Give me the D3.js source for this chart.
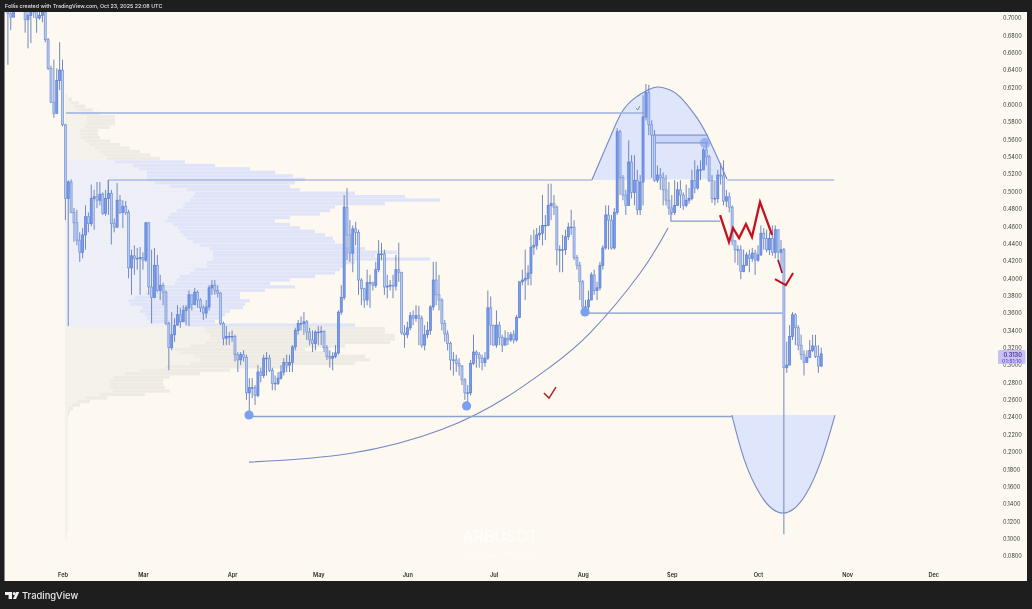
<!DOCTYPE html>
<html><head><meta charset="utf-8">
<script src="https://cdn.jsdelivr.net/npm/d3@7"></script>
<style>html,body{margin:0;padding:0;background:#1e1e1e;overflow:hidden}svg{display:block;filter:blur(.3px)}text{font-family:Inter,"Noto Sans",sans-serif}</style>
</head><body><div id="c"></div>
<script>
const firstOpen = 0.74;
const closes = [
.705,.701,.721,.744,.750,.726,.698,.703,.707,.715,
.700,.703,.707,.675,.642,.603,.590,.628,.640,.577,
.492,.511,.476,.464,.444,.430,.450,.471,.463,.492,
.494,.490,.497,.475,.492,.498,.463,.459,.490,.476,
.483,.476,.412,.426,.423,.423,.424,.421,.464,.390,
.378,.415,.386,.392,.384,.348,.320,.335,.346,.358,
.350,.363,.366,.381,.370,.384,.375,.366,.360,.367,
.389,.392,.386,.383,.348,.331,.333,.333,.333,.312,
.306,.312,.309,.268,.274,.274,.265,.292,.288,.308,
.308,.294,.279,.279,.285,.292,.303,.300,.303,.321,
.340,.348,.348,.350,.338,.329,.325,.338,.338,.339,
.320,.310,.308,.310,.314,.361,.378,.482,.450,.429,
.457,.453,.398,.388,.375,.395,.395,.392,.410,.428,
.428,.390,.391,.392,.391,.410,.407,.337,.335,.343,
.357,.354,.357,.354,.323,.335,.340,.367,.398,.381,
.375,.348,.336,.325,.306,.306,.302,.299,.283,.268,
.268,.302,.315,.312,.308,.303,.308,.366,.346,.323,
.346,.332,.323,.331,.329,.335,.329,.355,.396,.398,
.400,.406,.436,.438,.450,.452,.461,.461,.484,.486,
.482,.433,.433,.433,.448,.459,.459,.424,.415,.396,
.367,.367,.375,.404,.386,.389,.415,.435,.473,.467,
.435,.476,.569,.516,.496,.484,.534,.499,.513,.479,
.511,.586,.614,.577,.565,.513,.519,.516,.502,.490,
.481,.476,.484,.502,.496,.484,.490,.492,.513,.504,
.525,.525,.548,.540,.513,.492,.492,.519,.518,.489,
.494,.482,.443,.433,.433,.408,.415,.427,.423,.429,
.421,.427,.452,.446,.433,.446,.430,.456,.430,.433,
.297,.300,.333,.358,.343,.323,.312,.303,.309,.317,
.322,.310,.299,.313];
const highs = [
.767,.715,.744,.755,.761,.755,.721,.715,.721,.726,
.721,.715,.721,.709,.677,.645,.652,.642,.672,.652,
.578,.513,.514,.481,.479,.453,.458,.484,.476,.508,
.502,.511,.511,.499,.502,.513,.502,.469,.510,.496,
.490,.489,.479,.433,.438,.435,.436,.430,.465,.465,
.433,.435,.427,.404,.395,.386,.350,.361,.354,.369,
.366,.369,.369,.386,.375,.389,.386,.377,.369,.375,
.392,.398,.398,.392,.384,.350,.345,.338,.340,.335,
.315,.315,.317,.312,.285,.285,.277,.300,.297,.312,
.315,.312,.297,.288,.292,.300,.308,.312,.312,.323,
.343,.352,.356,.361,.352,.343,.340,.340,.345,.345,
.340,.323,.317,.315,.323,.363,.392,.496,.504,.467,
.461,.465,.456,.400,.389,.410,.404,.396,.419,.444,
.441,.433,.404,.398,.404,.427,.441,.398,.346,.350,
.361,.363,.369,.368,.357,.346,.350,.369,.419,.419,
.404,.377,.352,.340,.327,.315,.312,.308,.300,.285,
.277,.306,.335,.317,.315,.312,.315,.386,.379,.346,
.363,.350,.335,.340,.338,.338,.340,.358,.396,.410,
.433,.415,.450,.456,.458,.461,.496,.473,.509,.509,
.496,.484,.438,.450,.456,.464,.479,.467,.427,.419,
.398,.375,.386,.407,.410,.396,.419,.438,.484,.484,
.473,.481,.573,.571,.519,.502,.559,.542,.542,.525,
.519,.611,.624,.623,.582,.571,.530,.527,.522,.519,
.511,.496,.513,.511,.513,.499,.508,.504,.525,.536,
.530,.536,.550,.556,.542,.519,.513,.525,.533,.536,
.502,.499,.484,.444,.438,.438,.433,.430,.433,.435,
.433,.438,.461,.458,.456,.453,.461,.461,.456,.444,
.435,.327,.346,.361,.360,.346,.335,.317,.317,.329,
.335,.335,.323,.320];
const lows = [
.646,.686,.707,.726,.732,.707,.683,.665,.671,.700,
.683,.698,.695,.672,.640,.602,.585,.603,.617,.575,
.467,.345,.475,.442,.438,.419,.423,.433,.453,.460,
.456,.481,.484,.473,.472,.473,.439,.453,.458,.474,
.458,.473,.400,.381,.404,.410,.381,.410,.419,.381,
.348,.377,.384,.375,.369,.346,.294,.317,.327,.346,
.343,.350,.346,.345,.363,.369,.366,.361,.352,.354,
.363,.381,.381,.378,.346,.323,.323,.323,.327,.304,
.292,.300,.304,.260,.242,.262,.254,.263,.280,.285,
.288,.292,.271,.271,.277,.283,.288,.292,.292,.292,
.317,.335,.340,.335,.329,.323,.315,.317,.323,.323,
.315,.306,.297,.294,.308,.312,.358,.375,.421,.419,
.407,.438,.381,.369,.366,.369,.366,.386,.389,.407,
.421,.381,.377,.386,.377,.386,.396,.335,.320,.331,
.340,.346,.350,.323,.320,.317,.331,.335,.363,.369,
.363,.340,.327,.317,.294,.288,.292,.288,.277,.260,
.250,.265,.300,.297,.297,.294,.298,.306,.323,.323,
.320,.323,.315,.323,.323,.327,.325,.327,.354,.392,
.375,.392,.392,.427,.433,.444,.438,.444,.461,.467,
.473,.415,.407,.407,.427,.444,.450,.421,.410,.375,
.363,.361,.361,.381,.381,.375,.386,.410,.433,.433,
.433,.433,.473,.496,.490,.473,.484,.492,.484,.473,
.473,.484,.582,.565,.516,.511,.510,.502,.484,.484,
.473,.473,.473,.484,.481,.479,.482,.486,.490,.498,
.502,.513,.525,.530,.511,.487,.484,.487,.508,.484,
.482,.476,.438,.418,.415,.399,.407,.415,.407,.419,
.404,.419,.426,.433,.430,.427,.426,.423,.419,.412,
.105,.291,.300,.329,.323,.317,.306,.288,.304,.308,
.315,.308,.291,.298];

const profileTopPrice = 0.612, profileStep = 0.004;
const profileVolumes = [
2,7,14,20,28,35,50,50,50,45,
33,33,35,45,55,65,75,85,95,120,
150,185,210,228,240,230,225,235,290,340,
375,320,270,265,255,225,210,225,235,250,
260,268,270,280,300,332,310,365,290,280,
275,270,250,225,205,230,200,175,175,185,
180,178,165,160,155,150,290,320,320,330,
330,325,280,240,265,300,305,290,225,165,
135,105,98,98,100,105,80,42,25,15,
8,5,4,3,3,3,3,3,3,3,
3,3,3,3,3,3,3,3,3,3,
3,3,3,3,3,3,3,3,3,3,
3,3,3,3,3,3,2,2];
const profileBuy = [
1,3,6,9,12,16,22,22,22,20,
15,15,16,20,25,30,34,38,42,50,
68,74,82,82,82,90,105,122,130,128,
125,120,118,112,105,103,100,108,113,115,
118,122,128,135,145,148,148,148,142,142,
130,125,115,112,110,100,100,80,70,63,
65,78,75,80,82,85,120,140,140,145,
145,140,125,110,115,130,135,125,100,75,
60,48,45,45,45,48,35,20,12,7,
4,3,3,3,3,3,3,3,3,3,
3,3,3,3,3,3,3,3,3,3,
3,3,3,3,3,3,3,3,3,3,
3,3,3,3,3,3,2,2];
const valueAreaHigh = 0.536, valueAreaLow = 0.345;

const priceTicks = [.70,.68,.66,.64,.62,.60,.58,.56,.54,.52,.50,.48,.46,.44,.42,.40,.38,.36,.34,.32,.30,.28,.26,.24,.22,.20,.18,.16,.14,.12,.10,.08];
const monthTicks = ["2025-02-01","2025-03-01","2025-04-01","2025-05-01","2025-06-01","2025-07-01","2025-08-01","2025-09-01","2025-10-01","2025-11-01","2025-12-01"];
const monthLabels = ["Feb","Mar","Apr","May","Jun","Jul","Aug","Sep","Oct","Nov","Dec"];
const lastPrice = "0.3130", countdown = "01:51:10";

// annotations: [days since 1 Feb 2025, price]
const archTop = [[184.2,.5133],[190.6,.5628],[194.7,.592],[199.2,.608],[203.7,.617],[207.2,.6205],[211.4,.617],[214.9,.609],[220.1,.588],[224.6,.5627],[231.2,.5145]];
const archBottom = [[232.9,.2424],[237.4,.1894],[242.7,.1514],[246.9,.1345],[250.7,.1295],[254.5,.1345],[258.7,.1514],[263.9,.1894],[268.8,.2424]];
const bigCurve = [[64.9,.1882],[100,.1981],[132.4,.2263],[154.6,.2632],[169.6,.2977],[183.5,.3369],[201,.4061],[210.7,.458]];
const level1 = [[1.2,.5906],[202.2,.5906]];
const level2a = [[15.9,.5133],[184.2,.5133]];
const level2v = [[15.9,.5133],[15.9,.499]];
const level2b = [[231.2,.5133],[268.5,.5133]];
const level3 = [[65,.2407],[232.9,.2407]];
const level4 = [[180.7,.36],[250.5,.36]];
const level5 = [[211.7,.4795],[211.7,.466],[228.8,.466]];
const boxTop = .565, boxBottom = .556, boxFrom = 205.7, boxTo = 224.6;
const dots = [[64.9,.2425,4.6,1],[140.6,.2529,4.6,1],[181.8,.3612,4.6,1],[223.6,.5560,5.2,.65]];
const redZig = [[228.8,.4729],[231.9,.4418],[233.3,.458],[235.4,.4464],[237.8,.4625],[239.9,.4476],[242.7,.4879],[246.9,.45]];
const redSlash = [[249,.421],[250.4,.4061]];
const redCheck = [[247.9,.3991],[251.7,.3922],[254.2,.4061]];
const smallCheck = [[167.5,.2678],[169.3,.262],[171.7,.2747]];
const tinyCheck = [[199.5,.5962],[200.2,.5939],[200.9,.5985]];

const W=1032,H=609,L=4.5,R=1027,T=12,B=581;
const svg=d3.select("#c").append("svg").attr("width",W).attr("height",H);
svg.append("rect").attr("width",W).attr("height",H).attr("fill","#1e1e1e");
svg.append("rect").attr("x",L).attr("y",T).attr("width",R-L).attr("height",B-T).attr("fill","#fdf8f0");
svg.append("clipPath").attr("id","plot").append("rect").attr("x",L).attr("y",T).attr("width",R-L).attr("height",B-T);

const parse=d3.utcParse("%Y-%m-%d");
const feb1=parse("2025-02-01");
const x=d3.scaleUtc().domain([feb1,parse("2025-12-01")]).range([62.5,62.5+303*2.874]);
const y=d3.scaleLinear().domain([.7,.08]).range([18,556]);
const xd=d=>x(new Date(+feb1+d*864e5));
const g=svg.append("g").attr("clip-path","url(#plot)");

// volume profile
const vx=d3.scaleLinear().domain([0,375]).range([65,440]);
const rowH=Math.abs(y(0)-y(profileStep));
const rows=profileVolumes.map((v,k)=>({p:profileTopPrice-k*profileStep,v,b:profileBuy[k]}));
const inVA=d=>d.p<=valueAreaHigh&&d.p>=valueAreaLow;
const pg=g.append("g");
pg.selectAll(".pr").data(rows).join("rect").attr("x",vx(0)).attr("y",d=>y(d.p)).attr("height",rowH-.2)
  .attr("width",d=>vx(d.v)-vx(0)).attr("fill",d=>inVA(d)?"#dfe4f8":"#eeebe5");
pg.selectAll(".pb").data(rows).join("rect").attr("x",vx(0)).attr("y",d=>y(d.p)).attr("height",rowH-.2)
  .attr("width",d=>vx(d.b)-vx(0)).attr("fill",d=>inVA(d)?"#eff0f7":"#f5f2eb");

// shaded arcs
const toXY=a=>a.map(d=>[xd(d[0]),y(d[1])]);
const curve=d3.line().curve(d3.curveNatural);
const straight=d3.line();
const LC="#7589c2";
g.append("path").attr("d",curve(toXY(archTop))+"Z").attr("fill","#dfe5fa");
g.append("path").attr("d",curve(toXY(archBottom))+"Z").attr("fill","#dfe5fa");
g.append("rect").attr("x",xd(boxFrom)).attr("width",xd(boxTo)-xd(boxFrom)).attr("y",y(boxTop)).attr("height",y(boxBottom)-y(boxTop)).attr("fill","#c9d5f6");
[archTop,archBottom,bigCurve].forEach(a=>g.append("path").attr("d",curve(toXY(a))).attr("fill","none").attr("stroke",LC).attr("stroke-width",1.1));
const lvl=(a,w,c)=>g.append("path").attr("d",straight(toXY(a))).attr("fill","none").attr("stroke",c).attr("stroke-width",w);
lvl(level1,1.5,"#9db0de");lvl(level2a,1.2,"#8a9fd4");lvl(level2v,1.2,"#8a9fd4");lvl(level2b,1.2,"#8a9fd4");
lvl(level3,1.6,"#8ea2d2");lvl(level4,1.3,"#8098d4");lvl(level5,1.3,"#8098d4");
lvl([[boxFrom,boxTop],[boxTo,boxTop]],1.2,"#8098d4");lvl([[boxFrom,boxBottom],[boxTo,boxBottom]],1.2,"#8098d4");

// candles
const candles=closes.map((c,i)=>({date:d3.utcDay.offset(feb1,i-19),o:i?closes[i-1]:firstOpen,c,h:highs[i],l:lows[i]}));
const cg=g.append("g");
cg.selectAll(".w").data(candles).join("line").attr("x1",d=>x(d.date)).attr("x2",d=>x(d.date)).attr("y1",d=>y(d.h)).attr("y2",d=>y(d.l)).attr("stroke","#7088c0").attr("stroke-width",1);
cg.selectAll(".b").data(candles).join("rect").attr("x",d=>x(d.date)-1).attr("width",2)
  .attr("y",d=>y(Math.max(d.o,d.c))).attr("height",d=>Math.max(.6,Math.abs(y(d.o)-y(d.c))))
  .attr("fill",d=>d.c>=d.o?"#7a9cea":"#b9ccf3").attr("stroke",d=>d.c>=d.o?"#5b80d8":"#7896d8").attr("stroke-width",.75);

// dots
g.selectAll(".dot").data(dots).join("circle").attr("cx",d=>xd(d[0])).attr("cy",d=>y(d[1])).attr("r",d=>d[2]).attr("fill","#7ba0ee").attr("fill-opacity",d=>d[3]);

// red marks
const red=(a,w,c)=>g.append("path").attr("d",straight(toXY(a))).attr("fill","none").attr("stroke",c).attr("stroke-width",w).attr("stroke-linejoin","miter");
red(redZig,2.3,"#c4101f");red(redSlash,1.6,"#8e1030");red(redCheck,2,"#c4101f");red(smallCheck,1.5,"#b51f2b");red(tinyCheck,.8,"#5f6f9a");

// axes
const yAxis=d3.axisRight(y).tickValues(priceTicks).tickFormat(d3.format(".4f")).tickSize(0).tickPadding(0);
const ya=svg.append("g").attr("transform","translate(1003,0)").call(yAxis);
ya.select(".domain").remove();
ya.selectAll("text").attr("font-size",5.6).attr("fill","#3c3c3c").attr("font-family","Inter,sans-serif");
const monthDates=monthTicks.map(parse);
const xAxis=d3.axisBottom(x).tickValues(monthDates).tickFormat((d,i)=>monthLabels[i]).tickSize(0).tickPadding(0);
const xa=svg.append("g").attr("transform","translate(0,573)").call(xAxis);
xa.select(".domain").remove();
xa.selectAll("text").attr("font-size",5.6).attr("font-weight",600).attr("fill","#2a2a2a").attr("font-family","Inter,sans-serif");

// last price label
svg.append("rect").attr("x",998).attr("y",350).attr("width",27.5).attr("height",14).attr("rx",1.5).attr("fill","#c9c1f6");
svg.append("text").attr("x",1003.5).attr("y",356.5).attr("font-size",5.6).attr("font-weight",600).attr("fill","#3b2e8c").text(lastPrice);
svg.append("text").attr("x",1002).attr("y",362.5).attr("font-size",5.4).attr("fill","#4f40b0").text(countdown);

// watermark
svg.append("text").attr("x",500).attr("y",542).attr("text-anchor","middle").attr("font-size",16).attr("font-weight",500).attr("fill","#ffffff").attr("fill-opacity",.75).text("ARBUSDT");
svg.append("text").attr("x",501).attr("y",558).attr("text-anchor","middle").attr("font-size",7.5).attr("fill","#ffffff").attr("fill-opacity",.75).text("Arbitrum / TetherUS");

// header and footer
svg.append("text").attr("x",5).attr("y",8.4).attr("font-size",5.35).attr("font-weight",500).attr("fill","#e4e4e4").text("Follis created with TradingView.com, Oct 23, 2025 22:08 UTC");
const logo=svg.append("g").attr("transform","translate(5,592)").attr("fill","#f0f0f0");
logo.append("path").attr("d","M0 0H7V7H3.6V3H0Z");
logo.append("circle").attr("cx",9.2).attr("cy",1.5).attr("r",1.5);
logo.append("path").attr("d","M8 7L11.2 0H14.2L11 7Z");
svg.append("text").attr("x",22).attr("y",599.3).attr("font-size",9.4).attr("font-weight",500).attr("fill","#e8e8e8").text("TradingView");
</script></body></html>
